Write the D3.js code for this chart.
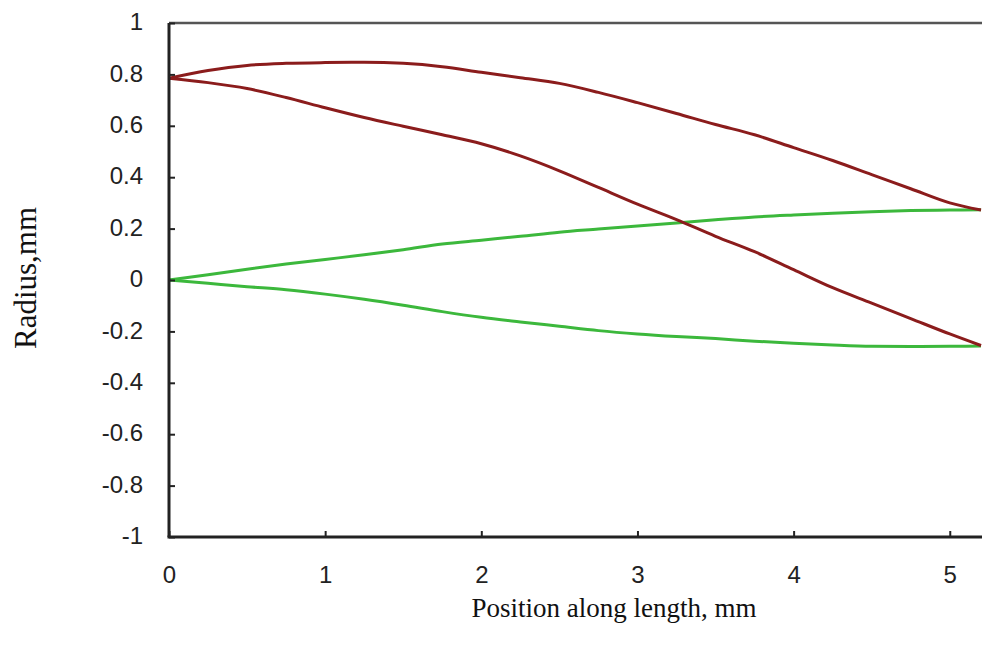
<!DOCTYPE html>
<html lang="en">
<head>
    <meta charset="UTF-8">
    <title>Radius along length</title>
    <style>
        body { margin: 0; background: #fff; }
        .tick-label { font-family: "Liberation Sans", Arial, sans-serif; font-size: 24px; fill: #222; }
        .axis-title { font-family: "Liberation Serif", "Times New Roman", serif; fill: #111; }
    </style>
</head>
<body>
<script src="https://d3js.org/d3.v7.min.js"></script>
<script>
    // positions along length, mm
    var xs = [0, 0.25, 0.5, 0.75, 1, 1.25, 1.5, 1.75, 2, 2.25, 2.5, 2.75, 3, 3.25, 3.5, 3.75, 4, 4.25, 4.5, 4.75, 5, 5.2];

    // mm
    var redUpper = [0.785, 0.815, 0.835, 0.843, 0.846, 0.847, 0.843, 0.83, 0.808, 0.787, 0.765, 0.73, 0.69, 0.648, 0.605, 0.565, 0.515, 0.465, 0.41, 0.355, 0.30, 0.272];
    var redLower = [0.785, 0.768, 0.745, 0.71, 0.67, 0.632, 0.598, 0.565, 0.53, 0.483, 0.425, 0.36, 0.295, 0.235, 0.17, 0.11, 0.04, -0.03, -0.09, -0.15, -0.21, -0.255];
    var greenUpper = [0, 0.02, 0.042, 0.062, 0.08, 0.098, 0.118, 0.14, 0.155, 0.17, 0.186, 0.198, 0.21, 0.222, 0.234, 0.245, 0.253, 0.26, 0.266, 0.27, 0.272, 0.273];
    var greenLower = [0, -0.013, -0.026, -0.038, -0.055, -0.075, -0.098, -0.123, -0.145, -0.163, -0.18, -0.197, -0.21, -0.22, -0.228, -0.238, -0.246, -0.253, -0.258, -0.259, -0.258, -0.257];

    var xTicks = [0, 1, 2, 3, 4, 5];
    var yTicks = [-1, -0.8, -0.6, -0.4, -0.2, 0, 0.2, 0.4, 0.6, 0.8, 1];

    var width = 982, height = 645,
        plotLeft = 169, plotTop = 23, plotRight = 981, plotBottom = 537;

    var svg = d3.select('body').append('svg')
                .attr('width', width)
                .attr('height', height);

    var x = d3.scaleLinear().domain([0, 5.2]).range([plotLeft, plotRight]);
    var y = d3.scaleLinear().domain([-1, 1]).range([plotBottom, plotTop]);

    // top border
    svg.append('line')
       .attr('x1', plotLeft).attr('x2', width)
       .attr('y1', plotTop).attr('y2', plotTop)
       .attr('stroke', '#555').attr('stroke-width', 2.5);

    // series
    var line = d3.line()
                 .curve(d3.curveMonotoneX)
                 .x(function(d) { return x(d[0]); })
                 .y(function(d) { return y(d[1]); });

    function drawSeries(vals, color) {
        svg.append('path')
           .datum(xs.map(function(v, i) { return [v, vals[i]]; }))
           .attr('fill', 'none')
           .attr('stroke', color)
           .attr('stroke-width', 3)
           .attr('stroke-linejoin', 'round')
           .attr('d', line);
    }

    drawSeries(greenUpper, '#3cb83c');
    drawSeries(greenLower, '#3cb83c');
    drawSeries(redUpper, '#8b1c1c');
    drawSeries(redLower, '#8b1c1c');

    // axes, ticks pointing inward
    var xAxis = d3.axisBottom(x).tickValues(xTicks).tickSizeInner(-6).tickSizeOuter(0).tickPadding(29)
                  .tickFormat(function(d) { return String(d); });
    var yAxis = d3.axisLeft(y).tickValues(yTicks).tickSizeInner(-6).tickSizeOuter(0).tickPadding(26)
                  .tickFormat(function(d) { return String(d); });

    var gx = svg.append('g')
       .attr('class', 'x-axis')
       .attr('transform', 'translate(0,' + plotBottom + ')')
       .call(xAxis);
    var gy = svg.append('g')
       .attr('class', 'y-axis')
       .attr('transform', 'translate(' + plotLeft + ',0)')
       .call(yAxis);

    [gx, gy].forEach(function(g) {
        g.attr('font-family', null).attr('font-size', null);
        g.select('.domain').attr('stroke', '#222').attr('stroke-width', 3);
        g.selectAll('.tick line').attr('stroke', '#222').attr('stroke-width', 2);
        g.selectAll('.tick text').attr('class', 'tick-label');
    });
    gy.selectAll('.tick text').attr('dy', '0.28em');
    gx.select('.domain').attr('d', 'M' + (plotLeft - 1.5) + ',0H' + width);
    gy.select('.domain').attr('d', 'M0,' + plotTop + 'V' + plotBottom);

    // titles
    svg.append('text')
       .attr('class', 'axis-title')
       .attr('x', 614)
       .attr('y', 617)
       .attr('font-size', 27)
       .attr('text-anchor', 'middle')
       .text('Position along length, mm');

    svg.append('text')
       .attr('class', 'axis-title')
       .attr('font-size', 31)
       .attr('transform', 'translate(36,278) rotate(-90)')
       .attr('text-anchor', 'middle')
       .text('Radius,mm');
</script>
</body>
</html>
